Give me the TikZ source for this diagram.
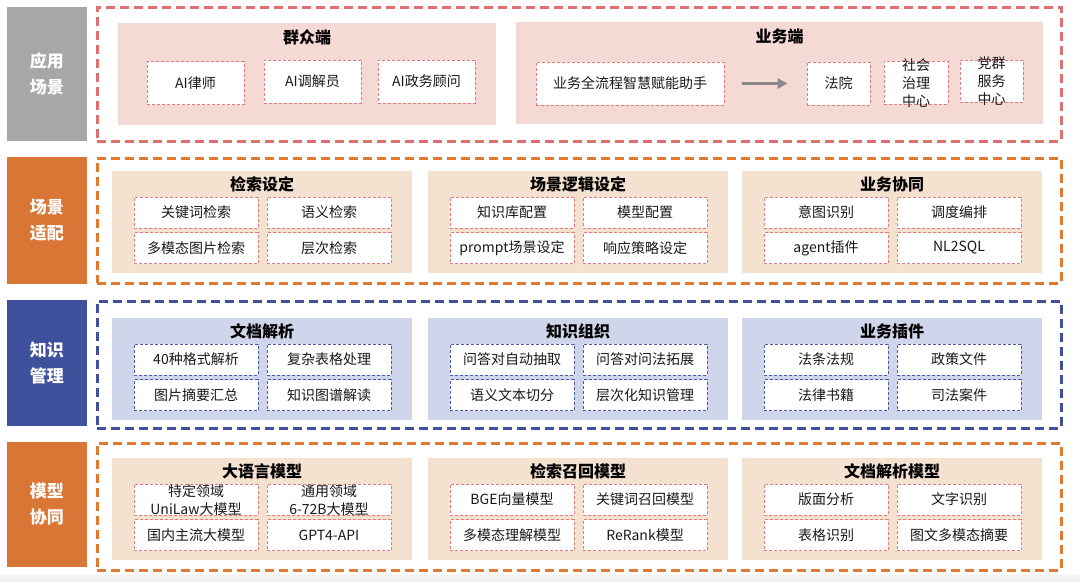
\documentclass[tikz,border=0pt]{standalone}
\usepackage{fontspec}
\setmainfont{Noto Sans CJK SC}
\usetikzlibrary{arrows.meta}

\definecolor{labelGrey}{HTML}{A8A6A6}
\definecolor{labelOrange}{HTML}{D97535}
\definecolor{labelBlue}{HTML}{3F519C}
\definecolor{lineRed}{HTML}{E07070}
\definecolor{lineOrange}{HTML}{E07A30}
\definecolor{lineBlue}{HTML}{3F519C}
\definecolor{fillPink}{HTML}{F5D9D5}
\definecolor{fillSand}{HTML}{F5E1D0}
\definecolor{fillLilac}{HTML}{CFD5EA}
\definecolor{itemRed}{HTML}{E27C7C}
\definecolor{itemBlue}{HTML}{4A5AA8}
\definecolor{arrowGrey}{HTML}{8C8888}
\definecolor{stripGrey}{HTML}{F2F2F2}

\tikzset{every node/.style={align=center, inner sep=0pt}}
\tikzset{layer/.style={fill=#1, text=white, minimum width=80pt, font=\fontsize{17}{26}\selectfont\bfseries}}
\tikzset{frame/.style={draw=#1, line width=3pt, dash pattern=on 9pt off 5pt, minimum width=964pt}}
\tikzset{grp/.style={minimum width=300pt, minimum height=102pt}}
\tikzset{title/.style={font=\fontsize{16}{18}\selectfont\bfseries}}
\tikzset{item/.style={fill=white, line width=0.9pt, dash pattern=on 3pt off 2pt, minimum width=124pt, minimum height=31pt, font=\fontsize{14}{18}\selectfont, text=black!90}}
\tikzset{flow/.style={draw=arrowGrey, line width=3pt, -{Triangle[length=10pt, width=10pt]}}}
\newcommand{\stack}[1]{\raisebox{-5.5pt}[0pt][0pt]{\begin{tabular}{@{}c@{}}#1\end{tabular}}}
\newcommand{\cgroup}[9]{%
	\begin{scope}[shift={(#2)}]
		\node[grp, fill=#3] (#1) at (150,51) {};
		\node[title] (#1-t) at (150,13) {#5};
		\node[item, draw=#4] (#1-a) at (84,41.5) {#6};
		\node[item, draw=#4] (#1-b) at (217,41.5) {#7};
		\node[item, draw=#4] (#1-c) at (84,77) {#8};
		\node[item, draw=#4] (#1-d) at (217,77) {#9};
	\end{scope}}

\begin{document}
\begin{tikzpicture}[x=1pt, y=-1pt]
		% Canvas
		\fill[white] (0,0) rectangle (1080,582);
		\useasboundingbox (0,0) rectangle (1080,582);
		\fill[stripGrey] (0,575) rectangle (1080,582);
		
		% Layer labels
		\node[layer=labelGrey, minimum height=134pt] (L1) at (47,74) {应用\\场景};
		\node[layer=labelOrange, minimum height=127pt] (L2) at (47,220.5) {场景\\适配};
		\node[layer=labelBlue, minimum height=126pt] (L3) at (47,363) {知识\\管理};
		\node[layer=labelOrange, minimum height=125pt] (L4) at (47,504.5) {模型\\协同};
		
		% Frames
		\node[frame=lineRed, minimum height=134pt] (F1) at (579,74) {};
		\node[frame=lineOrange, minimum height=125pt] (F2) at (579,220.5) {};
		\node[frame=lineBlue, minimum height=127pt] (F3) at (579,364.5) {};
		\node[frame=lineOrange, minimum height=127pt] (F4) at (579,506.5) {};
		
		% Application scenes
		\node[grp, fill=fillPink, minimum width=378pt] (crowd) at (307,74) {};
		\node[title] (crowd-t) at (307,37) {群众端};
		\node[item, draw=itemRed, minimum width=97pt, minimum height=43pt] (lawyer) at (195.5,83) {AI律师};
		\node[item, draw=itemRed, minimum width=97pt, minimum height=43pt] (mediator) at (312.5,81.5) {AI调解员};
		\node[item, draw=itemRed, minimum width=97pt, minimum height=43pt] (advisor) at (426.5,81.5) {AI政务顾问};
		
		\node[grp, fill=fillPink, minimum width=527pt] (biz) at (779.5,73) {};
		\node[title] (biz-t) at (779.5,36) {业务端};
		\node[item, draw=itemRed, minimum width=188pt, minimum height=43pt] (assist) at (630,83.5) {业务全流程智慧赋能助手};
		\node[item, draw=itemRed, minimum width=63pt, minimum height=43pt] (court) at (838.5,83.5) {法院};
		\node[item, draw=itemRed, minimum width=64pt, minimum height=43pt] (social) at (916,82.5) {\stack{社会\\治理\\中心}};
		\node[item, draw=itemRed, minimum width=63pt, minimum height=42pt] (party) at (991.5,81) {\stack{党群\\服务\\中心}};
		%% Arrow
		\draw[flow, shorten <=18pt, shorten >=19pt] (assist) -- (court);
		
		% Scene adaption
		\cgroup{search}{112,171}{fillSand}{itemRed}{检索设定}{关键词检索}{语义检索}{多模态图片检索}{层次检索}
		\cgroup{logic}{428,171}{fillSand}{itemRed}{场景逻辑设定}{知识库配置}{模型配置}{prompt场景设定}{响应策略设定}
		\cgroup{collab}{742,171}{fillSand}{itemRed}{业务协同}{意图识别}{调度编排}{agent插件}{NL2SQL}
		
		% Knowledge management
		\cgroup{parse}{112,318}{fillLilac}{itemBlue}{文档解析}{40种格式解析}{复杂表格处理}{图片摘要汇总}{知识图谱解读}
		\cgroup{organize}{428,318}{fillLilac}{itemBlue}{知识组织}{问答对自动抽取}{问答对问法拓展}{语义文本切分}{层次化知识管理}
		\cgroup{plugin}{742,318}{fillLilac}{itemBlue}{业务插件}{法条法规}{政策文件}{法律书籍}{司法案件}
		
		% Model collaboration
		\cgroup{llm}{112,458}{fillSand}{itemRed}{大语言模型}{\stack{特定领域\\UniLaw大模型}}{\stack{通用领域\\6-72B大模型}}{国内主流大模型}{GPT4-API}
		\cgroup{recall}{428,458}{fillSand}{itemRed}{检索召回模型}{BGE向量模型}{关键词召回模型}{多模态理解模型}{ReRank模型}
		\cgroup{docmodel}{742,458}{fillSand}{itemRed}{文档解析模型}{版面分析}{文字识别}{表格识别}{图文多模态摘要}
\end{tikzpicture}
\end{document}
